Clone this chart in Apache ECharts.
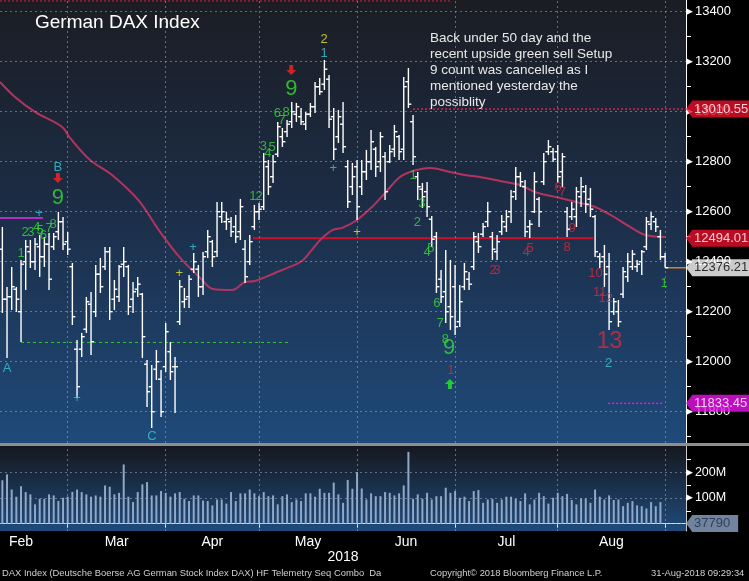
<!DOCTYPE html>
<html><head><meta charset="utf-8">
<script src="https://cdn.jsdelivr.net/npm/echarts@6/dist/echarts.min.js"></script>
<style>html,body{margin:0;padding:0;background:#000}#c{width:749px;height:581px}</style>
</head><body><div id="c"></div>
<script>
// ---------- DATA (trading-day index: 0 = 1 Feb 2018) ----------
const FIRST_DAY = 6;
const OPEN = [12450,12250,12260,12290,12200,12400,12440,12400,12460,12420,12470,12460,12520,12560,12480,12380,12050,12050,12130,12230,12200,12350,12380,12440,12250,12260,12390,12380,12250,12290,12270,11990,11900,11970,11930,11980,12040,11980,12160,12240,12260,12370,12370,12300,12440,12480,12440,12580,12560,12560,12540,12520,12450,12400,12540,12600,12620,12780,12740,12830,12900,12920,12960,12990,12980,12950,12990,13020,13100,13110,13130,12980,12900,12950,12780,12700,12780,12700,12760,12800,12850,12800,12820,12800,12850,12900,12850,13120,12960,12740,12690,12680,12570,12500,12330,12280,12220,12300,12160,12300,12330,12380,12480,12510,12560,12500,12440,12520,12540,12600,12680,12740,12700,12540,12600,12650,12720,12840,12840,12840,12760,12600,12580,12580,12660,12680,12650,12580,12420,12420,12380,12200,12200,12270,12340,12380,12380,12400,12460,12550,12560,12500,12420];
const HIGH = [12539,12299,12379,12299,12407,12487,12487,12495,12507,12499,12515,12515,12599,12579,12519,12395,12087,12115,12259,12279,12387,12415,12459,12459,12327,12387,12459,12387,12319,12339,12275,12007,11987,12047,11967,12155,12079,12019,12327,12295,12347,12435,12387,12439,12527,12487,12639,12639,12599,12579,12587,12651,12487,12507,12627,12635,12835,12807,12827,12959,12935,12967,13039,13035,13015,12999,13035,13119,13135,13207,13147,13015,13007,13039,12807,12795,12807,12807,12847,12927,12859,12919,12839,12867,12947,12907,13139,13175,12987,12759,12715,12719,12583,12519,12367,12447,12407,12387,12307,12395,12359,12519,12515,12555,12639,12519,12507,12587,12607,12687,12779,12759,12727,12567,12759,12659,12835,12887,12855,12867,12835,12619,12639,12699,12739,12707,12695,12587,12435,12467,12435,12255,12247,12379,12435,12447,12407,12447,12579,12599,12575,12527,12435];
const LOW = [12195,12015,12207,12199,12079,12287,12375,12367,12339,12379,12287,12447,12487,12447,12427,12147,11855,12019,12115,12027,12179,12275,12367,12167,12207,12239,12339,12187,12195,12259,12015,11819,11735,11927,11779,11959,11927,11795,12147,12215,12215,12355,12259,12267,12415,12379,12419,12555,12527,12499,12475,12487,12315,12387,12527,12567,12607,12667,12715,12819,12859,12899,12935,12959,12947,12927,12979,12995,13067,13087,12935,12807,12875,12835,12615,12667,12567,12667,12727,12767,12739,12759,12647,12795,12819,12807,12807,13015,12787,12647,12615,12579,12459,12275,12235,12155,12127,12107,12139,12287,12287,12367,12435,12499,12539,12407,12407,12507,12519,12555,12647,12699,12499,12495,12595,12539,12707,12827,12799,12715,12699,12499,12567,12539,12619,12595,12579,12419,12375,12299,12127,12187,12139,12255,12319,12367,12359,12347,12447,12527,12519,12407,12376];
const CLOSE = [12250,12260,12300,12250,12390,12460,12400,12470,12420,12470,12330,12500,12560,12470,12450,12180,11900,12100,12240,12080,12350,12300,12440,12200,12290,12380,12400,12220,12280,12310,12100,11880,11800,12000,11800,12120,11960,11980,12300,12250,12330,12400,12300,12420,12500,12420,12600,12600,12570,12520,12500,12620,12340,12480,12600,12610,12800,12700,12800,12940,12880,12950,13000,13020,12960,12990,13020,13100,13080,13170,12970,12850,12980,12860,12640,12740,12620,12760,12800,12880,12780,12900,12680,12840,12920,12840,13100,13030,12820,12700,12660,12620,12490,12300,12260,12200,12180,12140,12240,12360,12310,12500,12460,12540,12600,12450,12480,12560,12580,12660,12740,12720,12520,12550,12720,12600,12800,12860,12810,12740,12820,12530,12610,12680,12700,12630,12610,12440,12400,12350,12160,12240,12160,12360,12400,12430,12390,12440,12560,12580,12540,12420,12376.21];
// volume in millions of shares
const VOLUME = [169,192,133,105,146,123,114,75,97,97,114,110,88,101,105,124,133,123,114,105,110,105,149,144,114,120,231,105,84,123,153,162,110,110,127,120,105,118,123,97,88,110,110,90,88,71,94,94,78,123,88,118,118,133,118,107,123,107,110,75,107,114,84,94,88,118,118,105,136,120,120,160,114,81,170,136,201,137,94,118,107,107,123,120,110,118,149,280,97,114,97,120,94,107,107,140,120,127,101,105,88,127,131,81,94,97,81,94,105,105,97,88,118,75,94,120,107,78,101,120,107,116,92,75,98,98,81,133,105,94,110,92,94,68,81,88,71,68,59,84,68,84,0.03779];
const LAST_VOLUME_TAG = '37790';
// 50-day moving average: [day index, value]
const MA50 = [[5.49,13119],[8.7,13059],[13.0,12999],[18.8,12939],[20.5,12895],[24.8,12807],[29.5,12747],[35.1,12647],[39.8,12519],[44.1,12415],[48.4,12335],[51.1,12291],[55.2,12287],[58.0,12319],[60.1,12323],[64.4,12355],[67.6,12379],[70.2,12403],[72.3,12447],[74.1,12487],[76.8,12527],[78.8,12535],[82.0,12567],[85.2,12619],[88.0,12675],[91.2,12739],[94.0,12763],[97.6,12775],[101.9,12759],[105.1,12747],[108.3,12739],[112.6,12723],[116.9,12707],[120.1,12679],[125.5,12655],[129.8,12635],[133.0,12619],[136.3,12587],[140.5,12539],[143.8,12507],[148,12499]];
const MONTHS = ['Feb','Mar','Apr','May','Jun','Jul','Aug'];
const MONTH_START = [0,20,41,61,82,103,125];
const LAST_DAY = 148;
const Y_LABELS = [11800,12000,12200,12400,12600,12800,13000,13200,13400];
const Y_TICKS = [11700,11800,11900,12000,12100,12200,12300,12400,12500,12600,12700,12800,12900,13000,13100,13200,13300,13400];
const VOL_LABELS = [100,200];
const VOL_TICKS = [50,100,150,200,250];
const VOL_GRID = [0,100,200];
// level lines: [from day, to day, price]
const PURPLE_LEVEL = [5.49,14.7,12575];
const GREEN_LEVEL = [10.0,67.6,12077];
const RED_LEVEL = [59.7,132.6,12494.01];
const RED_DOTTED_LEVEL = [94.0,152.48,13010.55];
const TOP_DOTTED_LEVEL = [5.49,102,13443];
const MAGENTA_LEVEL = [135.8,147.6,11833.45];
const LAST_LEVEL = [148,152.48,12376.21];
// annotations: [day index, price, text]
const GREEN_COUNTS = [[10.0,12435,'1'],[10.85,12519,'2'],[12.1,12519,'3'],[13.4,12537,'4'],[14.1,12527,'5'],[14.8,12507,'6'],[16.0,12535,'7'],[16.85,12551,'8'],
 [59.7,12663,'1'],[61.0,12663,'2'],[61.9,12863,'3'],[62.9,12835,'4'],[63.8,12859,'5'],[64.9,12995,'6'],[65.9,12967,'7'],[66.8,12999,'8'],
 [94.0,12747,'1'],[94.9,12559,'2'],[95.9,12635,'3'],[97.0,12439,'4'],[97.8,12455,'5'],[99.1,12235,'6'],[99.8,12155,'7'],[100.9,12091,'8'],[147.8,12315,'1']];
const GREEN_NINES = [[17.9,12655,'9'],[67.9,13091,'9'],[101.7,12055,'9']];
const RED_COUNTS = [[102.1,11967,'1'],[111.1,12367,'2'],[112.0,12367,'3'],[118.2,12439,'4'],[119.1,12455,'5'],[125.1,12699,'6'],[126.0,12679,'7'],[127.0,12459,'8'],[128.1,12535,'9'],[133.1,12355,'10'],[134.0,12279,'11'],[135.3,12255,'12']];
const RED_THIRTEEN = [[136.1,12079,'13']];
const CYAN_MARKS = [[7.0,11975,'A'],[17.9,12779,'B'],[38.05,11703,'C'],[13.85,12595,'+'],[22.0,11855,'+'],[46.85,12459,'+'],[74.95,13235,'1'],[76.9,12775,'+'],[135.9,11995,'2']];
const YELLOW_MARKS = [[43.9,12355,'+'],[74.95,13291,'2'],[82.0,12519,'+']];
const SELL_ARROWS = [[17.9,12735],[67.9,13167]];
const BUY_ARROWS = [[101.9,11911]];
const PRICE_TAGS = [13010.55,12494.01,12376.21,11833.45];
const TITLE = 'German DAX Index';
const NOTE = ['Back under 50 day and the','recent upside green sell Setup','9 count was cancelled as I','mentioned yesterday the','possiblity'];
const FOOT_LEFT = 'DAX Index (Deutsche Boerse AG German Stock Index DAX) HF Telemetry Seq Combo  Da';
const FOOT_MID = 'Copyright\u00a9 2018 Bloomberg Finance L.P.';
const FOOT_RIGHT = '31-Aug-2018 09:29:34';
const YEAR = '2018';

// ---------- LAYOUT ----------
const XMIN = 5.494, XMAX = 152.48;
const YMAX = 13446.8, YMIN = 13446.8 - 4*443;
const FONT = '"Liberation Sans", Arial, sans-serif';
const GRIDLINE = {color:'rgba(165,172,185,0.55)', type:[2,3], width:1};

const ohlc = OPEN.map((o,k)=>[FIRST_DAY+k, o, HIGH[k], LOW[k], CLOSE[k]]);
const vol = VOLUME.map((v,k)=>[FIRST_DAY+k, v]);
const monthLines = MONTH_START.slice(1).concat([LAST_DAY]);
const monthMids = MONTH_START.map((s,k)=>(s + (k+1<MONTH_START.length ? MONTH_START[k+1] : LAST_DAY))/2);

const chart = echarts.init(document.getElementById('c'), null, {renderer:'canvas'});

function seg(lv){ return [[lv[0], lv[2]], [lv[1], lv[2]]]; }
function levelSeries(lv, color, type, width){
  return {type:'line', xAxisIndex:0, yAxisIndex:0, data:seg(lv), symbol:'none', silent:true, animation:false, z:3,
    lineStyle:{color, type, width}};
}
function textSeries(data, color, size, z){
  return {type:'scatter', xAxisIndex:0, yAxisIndex:0, data, symbolSize:0, silent:true, animation:false, z:z||6, clip:false,
    label:{show:true, position:'inside', formatter:p=>p.value[2], color, fontSize:size, fontFamily:FONT}};
}
const downArrow = 'path://M3,0 L7,0 L7,5 L10,5 L5,10 L0,5 L3,5 Z';
const upArrow = 'path://M5,0 L10,5 L7,5 L7,10 L3,10 L3,5 L0,5 Z';
const pointer = 'path://M0,8 L6,0 L6,16 Z';

function tagSeries(value, text, bg, fg, xi, yi){
  return [
    {type:'scatter', xAxisIndex:xi, yAxisIndex:yi, data:[[XMAX, value]], symbol:pointer, symbolSize:[6,16], symbolOffset:[3,0],
      itemStyle:{color:bg}, silent:true, animation:false, clip:false, z:20},
    {type:'scatter', xAxisIndex:xi, yAxisIndex:yi, data:[[XMAX, value]], symbolSize:0, silent:true, animation:false, clip:false, z:21,
      label:{show:true, position:'right', distance:6, formatter:text, color:fg, backgroundColor:bg, fontSize:13, fontFamily:FONT,
        lineHeight:14, padding:[2,8,1,2]}}
  ];
}

const option = {
  backgroundColor:'#000',
  animation:false,
  title:[
    {text:TITLE, left:35, top:13, padding:0, textStyle:{color:'#fff', fontSize:19, fontWeight:'normal', fontFamily:FONT}},
    {text:NOTE.join('\n'), left:430, top:30, padding:0, textStyle:{color:'#e8e8e8', fontSize:13.5, lineHeight:16, fontWeight:'normal', fontFamily:FONT}},
    {text:FOOT_LEFT, left:2, top:569, padding:0, textStyle:{color:'#d0d0d0', fontSize:9.4, fontWeight:'normal', fontFamily:FONT}},
    {text:FOOT_MID, left:430, top:569, padding:0, textStyle:{color:'#d0d0d0', fontSize:9.4, fontWeight:'normal', fontFamily:FONT}},
    {text:FOOT_RIGHT, left:651, top:569, padding:0, textStyle:{color:'#d0d0d0', fontSize:9.4, fontWeight:'normal', fontFamily:FONT}}
  ],
  graphic:[
    {type:'rect', shape:{x:0, y:443, width:749, height:3}, style:{fill:'#8e8e8e'}, silent:true, z:10}
  ],
  grid:[
    {left:0, right:63, top:0, height:443, show:true, borderWidth:0,
      backgroundColor:{type:'linear', x:0, y:0, x2:0, y2:1, colorStops:[{offset:0,color:'#1b1d23'},{offset:0.45,color:'#1c2c45'},{offset:1,color:'#1f4a7a'}]}},
    {left:0, right:63, top:446, height:85, show:true, borderWidth:0,
      backgroundColor:{type:'linear', x:0, y:0, x2:0, y2:1, colorStops:[{offset:0,color:'#15181f'},{offset:1,color:'#1f4b7b'}]}}
  ],
  xAxis:[
    {gridIndex:0, type:'value', min:XMIN, max:XMAX, show:false, splitLine:{show:false}},
    {gridIndex:1, type:'value', min:XMIN, max:XMAX, splitLine:{show:false},
      axisLine:{show:true, lineStyle:{color:'#d8dde8', width:1}},
      axisTick:{show:true, customValues:monthLines, length:4, lineStyle:{color:'#fff'}},
      axisLabel:{customValues:monthMids, margin:4, color:'#fff', fontSize:14, fontFamily:FONT,
        formatter:v=>{const k = monthMids.findIndex(m=>Math.abs(m-v)<0.01); return k>=0 ? MONTHS[k] : '';}},
      name:YEAR, nameLocation:'middle', nameGap:19, nameTextStyle:{color:'#fff', fontSize:14, fontFamily:FONT}}
  ],
  yAxis:[
    {gridIndex:0, type:'value', position:'right', min:YMIN, max:YMAX, splitLine:{show:false},
      axisLine:{show:true, lineStyle:{color:'#fff'}},
      axisTick:{show:true, customValues:Y_TICKS, length:5, lineStyle:{color:'#fff'}},
      axisLabel:{customValues:Y_LABELS, margin:0, color:'#fff', fontSize:13, fontFamily:FONT,
        formatter:v=>'{a|\u25B6}'+v, rich:{a:{fontSize:9, color:'#fff', fontFamily:'"DejaVu Sans"', padding:[0,2,0,0]}}}},
    {gridIndex:1, type:'value', position:'right', min:-29, max:303, splitLine:{show:false},
      axisLine:{show:true, lineStyle:{color:'#ccc'}},
      axisTick:{show:true, customValues:VOL_TICKS, length:5, lineStyle:{color:'#fff'}},
      axisLabel:{customValues:VOL_LABELS, margin:0, color:'#fff', fontSize:12.5, fontFamily:FONT,
        formatter:v=>'{a|\u25B6}'+v+'M', rich:{a:{fontSize:9, color:'#fff', fontFamily:'"DejaVu Sans"', padding:[0,2,0,0]}}}}
  ],
  series:[
    // grid lines (main pane)
    {type:'line', xAxisIndex:0, yAxisIndex:0, data:[[XMIN, YMIN]], symbol:'none', lineStyle:{opacity:0}, silent:true, z:1,
      markLine:{silent:true, symbol:['none','none'], label:{show:false}, lineStyle:GRIDLINE, animation:false,
        data:Y_LABELS.map(v=>({yAxis:v})).concat(monthLines.map(v=>({xAxis:v})))}},
    // grid lines (volume pane)
    {type:'line', xAxisIndex:1, yAxisIndex:1, data:[[XMIN, 0]], symbol:'none', lineStyle:{opacity:0}, silent:true, z:1,
      markLine:{silent:true, symbol:['none','none'], label:{show:false}, lineStyle:GRIDLINE, animation:false,
        data:VOL_GRID.map(v=>({yAxis:v})).concat(monthLines.map(v=>({xAxis:v})))}},
    // volume bars
    {type:'bar', xAxisIndex:1, yAxisIndex:1, data:vol, barWidth:2, itemStyle:{color:'#8fa7c8'}, silent:true, z:3},
    // level lines
    levelSeries(TOP_DOTTED_LEVEL, '#d8203a', [2,2], 1),
    levelSeries(PURPLE_LEVEL, '#b030c0', 'solid', 2),
    levelSeries(GREEN_LEVEL, '#2ccc2c', [3,3], 1),
    levelSeries(RED_LEVEL, '#cc1028', 'solid', 2),
    levelSeries(RED_DOTTED_LEVEL, '#e0203a', [2,2], 1.5),
    levelSeries(MAGENTA_LEVEL, '#e020e0', [2,2], 1.5),
    levelSeries(LAST_LEVEL, '#e08020', 'solid', 1.5),
    // 50-day MA
    {type:'line', xAxisIndex:0, yAxisIndex:0, data:MA50, smooth:0.35, symbol:'none', silent:true, z:4,
      lineStyle:{color:'#b2345e', width:2}},
    // OHLC bars
    {type:'custom', xAxisIndex:0, yAxisIndex:0, data:ohlc, silent:true, z:5,
      renderItem:(params, api)=>{
        const i = api.value(0);
        const pH = api.coord([i, api.value(2)]), pL = api.coord([i, api.value(3)]);
        const pO = api.coord([i, api.value(1)]), pC = api.coord([i, api.value(4)]);
        const st = {stroke:'#fff', lineWidth:1.4};
        return {type:'group', children:[
          {type:'line', shape:{x1:pH[0], y1:pH[1], x2:pL[0], y2:pL[1]}, style:st},
          {type:'line', shape:{x1:pO[0]-3, y1:pO[1], x2:pO[0], y2:pO[1]}, style:st},
          {type:'line', shape:{x1:pC[0], y1:pC[1], x2:pC[0]+3, y2:pC[1]}, style:st}
        ]};
      }},
    // TD annotations
    textSeries(GREEN_COUNTS, '#3ad83a', 13),
    textSeries(GREEN_NINES, '#3ad83a', 22),
    textSeries(RED_COUNTS, '#d42a3f', 13),
    textSeries(RED_THIRTEEN, '#d42a3f', 23),
    textSeries(CYAN_MARKS, '#38c8d6', 13),
    textSeries(YELLOW_MARKS, '#e6e23a', 13),
    {type:'scatter', xAxisIndex:0, yAxisIndex:0, data:SELL_ARROWS, symbol:downArrow, symbolSize:[10,10], itemStyle:{color:'#ff2222'}, silent:true, z:6},
    {type:'scatter', xAxisIndex:0, yAxisIndex:0, data:BUY_ARROWS, symbol:upArrow, symbolSize:[10,10], itemStyle:{color:'#22ee22'}, silent:true, z:6},
    // right-hand price tags
    ...tagSeries(PRICE_TAGS[0], String(PRICE_TAGS[0]), '#e8102c', '#fff', 0, 0),
    ...tagSeries(PRICE_TAGS[1], String(PRICE_TAGS[1]), '#e8102c', '#fff', 0, 0),
    ...tagSeries(PRICE_TAGS[2], String(PRICE_TAGS[2]), '#ffffff', '#000', 0, 0),
    ...tagSeries(PRICE_TAGS[3], String(PRICE_TAGS[3]), '#ee10ee', '#fff', 0, 0),
    ...tagSeries(VOLUME[VOLUME.length-1], LAST_VOLUME_TAG, '#8ea5c4', '#1a2a48', 1, 1)
  ]
};
chart.setOption(option);
</script>
</body></html>
